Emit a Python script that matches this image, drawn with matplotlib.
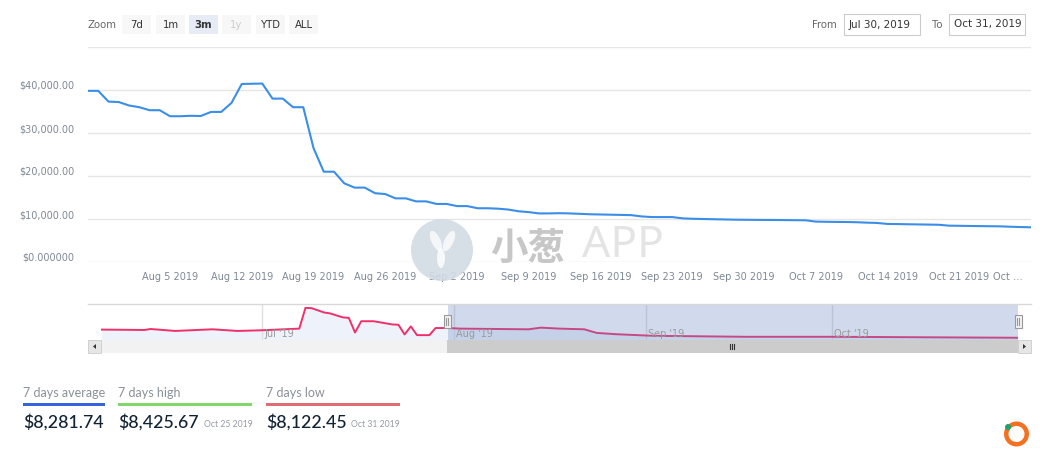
import matplotlib
matplotlib.use('Agg')
import matplotlib.pyplot as plt
from matplotlib.patches import Rectangle, Circle, Wedge, Ellipse, Polygon
from matplotlib.lines import Line2D
from matplotlib.transforms import IdentityTransform, ScaledTranslation
import pandas as pd

W, H = 1049, 463

# ---------------- data ----------------
price_start = '2019-07-28'
price_values = [
    39800, 39800, 37300, 37200, 36400, 36000, 35300, 35300, 33900, 33900,
    34000, 33950, 34900, 34900, 37000, 41400, 41450, 41500, 38000, 38000,
    36000, 36000, 26500, 21000, 21000, 18300, 17300, 17300, 16000, 15800,
    14800, 14800, 14100, 14100, 13500, 13500, 13000, 13000, 12500, 12500,
    12400, 12200, 11800, 11600, 11300, 11300, 11350, 11300, 11200, 11100,
    11050, 11000, 10950, 10900, 10600, 10450, 10450, 10450, 10150, 10050,
    10000, 9950, 9900, 9850, 9820, 9800, 9780, 9770, 9750, 9720,
    9700, 9400, 9350, 9320, 9300, 9250, 9150, 9080, 8850, 8820,
    8780, 8740, 8700, 8660, 8450, 8420, 8380, 8350, 8320, 8290,
    8200, 8130, 8070,
]
y_ticks = [0, 10000, 20000, 30000, 40000, 50000]
y_tick_labels = ['$0.000000', '$10,000.00', '$20,000.00', '$30,000.00', '$40,000.00', '']
x_tick_dates = ['2019-08-05', '2019-08-12', '2019-08-19', '2019-08-26', '2019-09-02',
                '2019-09-09', '2019-09-16', '2019-09-23', '2019-09-30', '2019-10-07',
                '2019-10-14', '2019-10-21', '2019-10-28']
x_tick_labels = ['Aug 5 2019', 'Aug 12 2019', 'Aug 19 2019', 'Aug 26 2019', 'Sep 2 2019',
                 'Sep 9 2019', 'Sep 16 2019', 'Sep 23 2019', 'Sep 30 2019', 'Oct 7 2019',
                 'Oct 14 2019', 'Oct 21 2019', 'Oct …']

nav_dates = ['2019-06-05', '2019-06-12', '2019-06-13', '2019-06-17', '2019-06-23',
             '2019-06-27', '2019-07-01', '2019-07-07', '2019-07-08', '2019-07-09',
             '2019-07-11', '2019-07-12', '2019-07-14', '2019-07-15', '2019-07-16',
             '2019-07-17', '2019-07-19', '2019-07-22', '2019-07-23', '2019-07-24',
             '2019-07-25', '2019-07-26', '2019-07-28', '2019-07-29', '2019-07-31',
             '2019-08-02', '2019-08-13', '2019-08-15', '2019-08-18', '2019-08-22',
             '2019-08-24', '2019-08-27', '2019-09-02', '2019-09-17', '2019-10-01',
             '2019-10-31']
nav_values = [33200, 32000, 35000, 29000, 34100, 29000, 31100, 36200, 100100, 99200,
              86000, 83000, 71000, 69200, 24200, 59000, 59000, 49100, 48200, 18200,
              43100, 16100, 16100, 38000, 38000, 36200, 34100, 39200, 36200, 34100,
              23000, 19100, 14000, 11000, 11000, 8000]
nav_month_dates = ['2019-07-01', '2019-08-01', '2019-09-01', '2019-10-01']
nav_month_labels = ["Jul '19", "Aug '19", "Sep '19", "Oct '19"]
selected_from, selected_to = '2019-07-31', '2019-10-31'

zoom_buttons = ['7d', '1m', '3m', '1y', 'YTD', 'ALL']
range_from, range_to = 'Jul 30, 2019', 'Oct 31, 2019'

stats_labels = ['7 days average', '7 days high', '7 days low']
stats_values = ['$8,281.74', '$8,425.67', '$8,122.45']
stats_dates = ['', 'Oct 25 2019', 'Oct 31 2019']

# ---------------- helpers ----------------
def fx(x):
    return x / W

def fy(y):
    return 1 - y / H

def fbox(x0, y0, x1, y1):
    return [x0 / W, 1 - y1 / H, (x1 - x0) / W, (y1 - y0) / H]

def frect(x0, y0, x1, y1, **kw):
    r = Rectangle((x0 / W, 1 - y1 / H), (x1 - x0) / W, (y1 - y0) / H,
                  transform=fig.transFigure, **kw)
    fig.add_artist(r)
    return r

def fline(xs, ys, **kw):
    fig.add_artist(Line2D([fx(v) for v in xs], [fy(v) for v in ys],
                          transform=fig.transFigure, **kw))

TICK_FONT = 'DejaVu Sans'
TICK_COLOR = '#7f8896'

fig = plt.figure(figsize=(W / 100, H / 100), dpi=100)
fig.patch.set_facecolor('white')

# ---------------- main chart ----------------
dates = pd.date_range(price_start, periods=len(price_values), freq='D')
ax = fig.add_axes(fbox(88, 47, 1031, 262))
ax.plot(dates, price_values, color='#3b8ee8', lw=1.5, zorder=3, solid_joinstyle='round')
ax.set_xlim(dates[0], dates[-1])
ax.set_ylim(0, 50000)
ax.set_yticks(y_ticks)
ax.set_yticklabels(y_tick_labels)
ax.set_xticks(pd.to_datetime(x_tick_dates))
ax.set_xticklabels(x_tick_labels)
ax.grid(axis='y', color='#e6e6e6', lw=1)
ax.grid(axis='x', visible=False)
for s in ax.spines.values():
    s.set_visible(False)
ax.tick_params(axis='both', length=0, labelsize=7.0, labelcolor=TICK_COLOR)
ax.tick_params(axis='y', pad=10)
ax.tick_params(axis='x', pad=7)
for lbl in ax.get_yticklabels():
    lbl.set_fontfamily(TICK_FONT)
    lbl.set_transform(lbl.get_transform() + ScaledTranslation(0, 0.05, fig.dpi_scale_trans))
xl = ax.get_xticklabels()
for lbl in xl:
    lbl.set_fontfamily(TICK_FONT)
xl[-1].set_ha('right')
xl[-1].set_transform(xl[-1].get_transform() + ScaledTranslation(-0.08, 0, fig.dpi_scale_trans))

# watermark
fig.add_artist(Circle((442, H - 250), 31, transform=IdentityTransform(),
                      facecolor='#d2dbe4', edgecolor='none', alpha=0.9, zorder=5))
fig.add_artist(Ellipse((436, H - 241), 9, 22, angle=25, transform=IdentityTransform(),
                       facecolor='white', edgecolor='none', alpha=0.75, zorder=6))
fig.add_artist(Ellipse((449, H - 241), 9, 22, angle=-25, transform=IdentityTransform(),
                       facecolor='white', edgecolor='none', alpha=0.75, zorder=6))
fig.add_artist(Ellipse((441, H - 258), 8, 20, angle=0, transform=IdentityTransform(),
                       facecolor='white', edgecolor='none', alpha=0.8, zorder=6))
fig.text(fx(528), fy(248), '小葱', family=['Noto Sans CJK SC'], weight='bold',
         fontsize=27, color='#bdbdbd', alpha=0.85, ha='center', va='center', zorder=6)
fig.text(fx(582), fy(246), 'APP', family=['Noto Sans'], fontsize=32,
         color='#e2e2e2', alpha=0.9, ha='left', va='center', zorder=6)

# ---------------- range selector ----------------
fig.text(fx(88), fy(24.5), 'Zoom', fontsize=7.3, color='#666666', family=TICK_FONT,
         ha='left', va='center')
btn_x = [122, 156, 189, 222, 256, 289]
for bx, b in zip(btn_x, zoom_buttons):
    selected = b == '3m'
    frect(bx, 15, bx + 29, 34, facecolor='#e6ebf5' if selected else '#f7f7f7',
          edgecolor='none')
    fig.text(fx(bx + 14.5), fy(24.5), b, fontsize=7.3, family=TICK_FONT,
             color='#cccccc' if b == '1y' else '#333333',
             weight='bold' if selected else 'normal', ha='center', va='center')

fig.text(fx(837), fy(24.5), 'From', fontsize=7.3, color='#666666', family=TICK_FONT,
         ha='right', va='center')
frect(844, 14, 920, 35, facecolor='white', edgecolor='#cccccc', lw=0.8)
fig.text(fx(849), fy(24.5), range_from, fontsize=7.5, color='#333333', family=TICK_FONT,
         ha='left', va='center')
fig.text(fx(942), fy(24.5), 'To', fontsize=7.3, color='#666666', family=TICK_FONT,
         ha='right', va='center')
frect(949, 14, 1025, 35, facecolor='white', edgecolor='#cccccc', lw=0.8)
fig.text(fx(954), fy(24.5), range_to, fontsize=7.5, color='#333333', family=TICK_FONT,
         ha='left', va='center')

# ---------------- navigator ----------------
nd = pd.to_datetime(nav_dates)
nav = fig.add_axes(fbox(101, 304, 1018, 340))
nav.set_xlim(pd.Timestamp('2019-06-05'), pd.Timestamp('2019-10-31'))
nav.set_ylim(1100, 112100)
nav.fill_between(nd, nav_values, 1100, color='#eef3fb', lw=0, zorder=1)
nav.plot(nd, nav_values, color='#f0306a', lw=1.4, zorder=2)
for d, lab in zip(pd.to_datetime(nav_month_dates), nav_month_labels):
    nav.axvline(d, color='#e0e0e0', lw=1, zorder=1.5)
    t = nav.text(d, 0.18, lab, transform=nav.get_xaxis_transform(), fontsize=7.0,
                 color='#9a9a9a', family=TICK_FONT, ha='left', va='center', zorder=4)
    t.set_transform(t.get_transform() + ScaledTranslation(0.02, 0, fig.dpi_scale_trans))
nav.axvspan(pd.Timestamp(selected_from), pd.Timestamp(selected_to),
            color=(102 / 255, 133 / 255, 194 / 255), alpha=0.3, lw=0, zorder=3)
nav.set_xticks([])
nav.set_yticks([])
for s in nav.spines.values():
    s.set_visible(False)
nav.patch.set_alpha(0)

fline([88, 1031], [303.5, 303.5], color='#d8d8d8', lw=1)

# handles
for hx in (447, 1018):
    frect(hx - 3.5, 315, hx + 3.5, 328, facecolor='#f2f2f2', edgecolor='#999999', lw=0.8,
          zorder=6)
    fline([hx - 1, hx - 1], [318, 325], color='#999999', lw=0.8, zorder=7)
    fline([hx + 1, hx + 1], [318, 325], color='#999999', lw=0.8, zorder=7)

# scrollbar
frect(88, 340, 1031, 353, facecolor='#f2f2f2', edgecolor='none')
frect(447, 340, 1018, 353, facecolor='#cccccc', edgecolor='none')
frect(88, 340, 101, 353, facecolor='#e6e6e6', edgecolor='#cccccc', lw=0.6)
frect(1018, 340, 1031, 353, facecolor='#e6e6e6', edgecolor='#cccccc', lw=0.6)
fig.add_artist(Polygon([(fx(93), fy(346.5)), (fx(96), fy(344)), (fx(96), fy(349))],
                       closed=True, transform=fig.transFigure, facecolor='#333333',
                       edgecolor='none'))
fig.add_artist(Polygon([(fx(1026), fy(346.5)), (fx(1023), fy(344)), (fx(1023), fy(349))],
                       closed=True, transform=fig.transFigure, facecolor='#333333',
                       edgecolor='none'))
for gx in (730, 732, 734):
    fline([gx, gx], [344, 349], color='#333333', lw=0.8)

# ---------------- stats ----------------
STAT_FONT = ['Lato', 'DejaVu Sans']
stat_x = [23, 118, 266]
stat_x1 = [105, 252, 400]
stat_colors = ['#3464e0', '#7fd869', '#e26b74']
date_x = [0, 204, 351]
for i in range(3):
    fig.text(fx(stat_x[i]), fy(393), stats_labels[i], family=STAT_FONT, fontsize=9.0,
             color='#8a9099', ha='left', va='center')
    frect(stat_x[i], 403, stat_x1[i], 405.5, facecolor=stat_colors[i], edgecolor='none')
    fig.text(fx(stat_x[i]), fy(422), stats_values[i], family=STAT_FONT, fontsize=12.8,
             color='#122233', ha='left', va='center', weight='medium')
    if stats_dates[i]:
        fig.text(fx(date_x[i]), fy(424.5), stats_dates[i], family=STAT_FONT, fontsize=6.2,
                 color='#969ba3', ha='left', va='center')

# logo
fig.add_artist(Wedge((1016.5, H - 434), 12.5, 0, 360, width=4.5,
                     transform=IdentityTransform(), facecolor='#f47120', edgecolor='none'))
fig.add_artist(Circle((1008, H - 427), 3, transform=IdentityTransform(),
                      facecolor='#19a36f', edgecolor='none'))

fig.savefig('out.png', dpi=100, facecolor='white')
